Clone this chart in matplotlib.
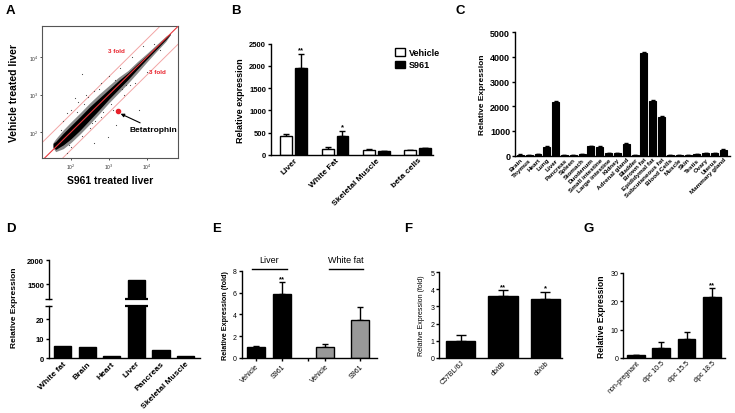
import numpy as np
import matplotlib
matplotlib.use("Agg")
import matplotlib.pyplot as plt
from matplotlib.patches import Patch
import matplotlib.transforms as mtransforms

plt.rcParams['font.family'] = ['Liberation Sans', 'DejaVu Sans']

# ---------------- data ----------------
# A: microarray scatter (log10 intensity), cloud envelope + sparse genes
cloud_x = [1.53, 1.60, 1.80, 2.00, 2.25, 2.50, 2.75, 3.00, 3.25, 3.50, 3.75, 4.00, 4.25, 4.50, 4.62]
core_lo = [1.60, 1.54, 1.66, 1.82, 2.06, 2.33, 2.60, 2.88, 3.14, 3.40, 3.68, 3.95, 4.21, 4.47, 4.61]
core_hi = [1.70, 1.75, 1.97, 2.17, 2.42, 2.68, 2.91, 3.14, 3.37, 3.58, 3.82, 4.05, 4.29, 4.53, 4.63]
halo_lo = [1.58, 1.48, 1.56, 1.72, 1.96, 2.22, 2.50, 2.78, 3.04, 3.30, 3.58, 3.87, 4.15, 4.42, 4.60]
halo_hi = [1.72, 1.82, 2.06, 2.27, 2.52, 2.78, 3.02, 3.24, 3.46, 3.64, 3.88, 4.10, 4.33, 4.56, 4.64]
sparse_x = [2.4, 2.6, 2.2, 2.0, 1.9, 2.8, 3.0, 3.3, 3.6, 3.9, 2.1, 1.8, 2.5, 2.8, 3.1, 3.4,
            3.7, 4.0, 2.3, 2.0, 3.2, 3.8, 2.6, 1.9, 2.28, 2.63, 2.97, 1.75, 2.35, 3.55,
            2.15, 2.45, 2.75, 3.05, 3.35, 1.95, 2.55, 2.85, 3.15, 3.45, 4.2, 4.35]
sparse_y = [3.0, 3.1, 2.8, 2.6, 2.5, 3.3, 3.5, 3.7, 4.0, 4.3, 2.9, 2.3, 2.1, 2.4, 2.6, 3.0,
            3.3, 3.6, 1.9, 1.6, 2.2, 2.6, 1.7, 1.45, 3.55, 2.30, 1.87, 2.05, 2.75, 3.25,
            2.55, 2.95, 3.15, 2.75, 3.15, 1.65, 2.25, 2.55, 3.40, 3.25, 4.35, 4.20]
beta_xy = (3.24, 2.56)
FOLD = 3

# B
b_cats = ["Liver", "White Fat", "Skeletal Muscle", "beta cells"]
b_vehicle = [420, 145, 115, 110]
b_vehicle_err = [55, 25, 20, 10]
b_s961 = [1950, 420, 80, 150]
b_s961_err = [320, 110, 8, 15]
b_stars = ["**", "*", "", ""]

# C
c_cats = ["Brain", "Thymus", "Heart", "Lung", "Liver", "Pancreas", "Spleen", "Stomach",
          "Duodenum", "Small intestine", "Large intestine", "Kidney", "Adrenal gland",
          "Bladder", "Brown fat", "Epididymal fat", "Subcutaneous fat", "Blood Cells",
          "Muscle", "Skin", "Testis", "Ovary", "Uterus", "Mammary gland"]
c_vals = [40, 20, 60, 340, 2180, 10, 10, 70, 370, 350, 100, 100, 480, 20, 4180, 2230,
          1560, 10, 15, 15, 60, 90, 90, 230]
c_err = [10, 5, 10, 30, 40, 3, 3, 10, 30, 30, 10, 10, 30, 5, 30, 40, 30, 3, 3, 3, 10, 10, 10, 20]

# D
d_cats = ["White fat", "Brain", "Heart", "Liver", "Pancreas", "Skeletal Muscle"]
d_vals = [6.2, 5.8, 1.0, 1580, 4.2, 1.4]

# E
e_cats = ["Vehicle", "S961", "", "Vehicle", "S961"]
e_vals = [1.0, 5.9, 1.0, 3.45]
e_err = [0.08, 1.05, 0.3, 1.2]
e_stars = ["", "**", "", ""]

# F
f_cats = ["C57BL/6J", "db/db", "ob/ob"]
f_vals = [1.0, 3.63, 3.41]
f_err = [0.33, 0.33, 0.45]
f_stars = ["", "**", "*"]

# G
g_cats = ["non-pregnant", "dpc 10.5", "dpc 15.5", "dpc 18.5"]
g_vals = [1.0, 3.7, 6.8, 21.4]
g_err = [0.2, 1.9, 2.3, 3.3]
g_stars = ["", "", "", "**"]

# ---------------- helpers ----------------
W, H = 735, 414


def add_ax(x0, y0, x1, y1):
    # pixel box (top-left origin) -> figure axes
    return fig.add_axes([x0 / W, 1 - y1 / H, (x1 - x0) / W, (y1 - y0) / H])


def prism(ax, size=5.5, weight="bold"):
    for s in ["top", "right"]:
        ax.spines[s].set_visible(False)
    for s in ["left", "bottom"]:
        ax.spines[s].set_linewidth(1.0)
    ax.tick_params(direction="out", length=2.5, width=1.0, labelsize=size, pad=1)
    for lab in ax.get_yticklabels():
        lab.set_fontweight(weight)


def xlabels(ax, pos, labels, size, weight="bold"):
    ax.set_xticks(pos)
    ax.set_xticklabels(labels, rotation=45, ha="right", rotation_mode="anchor",
                       fontsize=size, fontweight=weight)


def up_err(ax, x, v, e, cap=2.5):
    ax.errorbar(x, v, yerr=[np.zeros(len(e)), e], fmt="none", ecolor="black",
                elinewidth=1.0, capsize=cap, capthick=1.0, zorder=1)


def letter(x, y, s):
    fig.text(x / W, 1 - y / H, s, fontsize=9.5, fontweight="bold", va="center", ha="left")


fig = plt.figure(figsize=(7.35, 4.14), dpi=100)

# ---------------- A ----------------
ax = add_ax(42, 27, 178, 159)
ax.set_xlim(1.24, 4.82)
ax.set_ylim(1.31, 4.83)
ax.fill_between(cloud_x, halo_lo, halo_hi, color="#3a3a3a", alpha=0.6, lw=0, zorder=2)
ax.fill_between(cloud_x, core_lo, core_hi, color="black", lw=0, zorder=3)
ax.scatter(sparse_x, sparse_y, s=0.7, color="#444", lw=0, zorder=2)
lim = np.array([1.0, 5.0])
ax.plot(lim, lim, color="#e8383d", lw=0.8, zorder=4)
ax.plot(lim, lim + np.log10(FOLD), color="#f2a5a5", lw=0.7, zorder=1)
ax.plot(lim, lim - np.log10(FOLD), color="#f2a5a5", lw=0.7, zorder=1)
ax.scatter([beta_xy[0]], [beta_xy[1]], s=9, color="#e8202a", zorder=5)
ax.annotate("Betatrophin", xy=(beta_xy[0] + 0.07, beta_xy[1] - 0.07), xytext=(3.55, 2.08),
            fontsize=6, fontweight="bold", va="center", ha="left",
            arrowprops=dict(arrowstyle="-|>", color="black", lw=0.8, mutation_scale=5,
                            shrinkA=0, shrinkB=0))
ax.text(3.21, 4.13, "%d fold" % FOLD, color="#e8202a", fontsize=4.5, fontweight="bold", ha="center")
ax.text(4.29, 3.57, "%d fold" % FOLD, color="#e8202a", fontsize=4.5, fontweight="bold", ha="center")
ax.set_xticks([2, 3, 4])
ax.set_yticks([2, 3, 4])
ax.set_xticklabels(["10$^2$", "10$^3$", "10$^4$"])
ax.set_yticklabels(["10$^2$", "10$^3$", "10$^4$"])
ax.tick_params(direction="out", length=1.5, width=0.6, labelsize=3.5, pad=1, colors="#333")
for s in ax.spines.values():
    s.set_color("#555")
    s.set_linewidth(0.8)
ax.set_xlabel("S961 treated liver", fontsize=7.5, fontweight="bold", labelpad=3)
ax.set_ylabel("Vehicle treated liver", fontsize=7.5, fontweight="bold", labelpad=7)
letter(6, 11, "A")

# ---------------- B ----------------
ax = add_ax(271, 44.7, 433, 156)
xb = np.arange(len(b_cats))
bw = 0.29
ax.bar(xb - 0.18, b_vehicle, bw, color="white", edgecolor="black", lw=1.0, zorder=2)
ax.bar(xb + 0.18, b_s961, bw, color="black", edgecolor="black", lw=1.0, zorder=2)
up_err(ax, xb - 0.18, b_vehicle, b_vehicle_err, cap=2)
up_err(ax, xb + 0.18, b_s961, b_s961_err, cap=2)
for i, st in enumerate(b_stars):
    if st:
        ax.annotate(st, (xb[i] + 0.18, b_s961[i] + b_s961_err[i]), xytext=(0, 2),
                    textcoords="offset points", ha="center", fontsize=5.5, fontweight="bold")
ax.set_xlim(-0.55, 3.37)
ax.set_ylim(0, 2500)
ax.set_yticks([0, 500, 1000, 1500, 2000, 2500])
prism(ax, 5.5)
ax.tick_params(axis="x", length=0)
xlabels(ax, xb, b_cats, 6)
ax.set_ylabel("Relative expression", fontsize=6.5, fontweight="bold", labelpad=3)
ax.legend(handles=[Patch(facecolor="white", edgecolor="black", lw=1.0, label="Vehicle"),
                   Patch(facecolor="black", edgecolor="black", lw=1.0, label="S961")],
          loc="upper left", bbox_to_anchor=(0.74, 1.0), frameon=False, borderpad=0,
          handlelength=1.1, handleheight=0.9, handletextpad=0.4, labelspacing=0.35,
          prop=dict(size=6.5, weight="bold"))
letter(231, 11, "B")

# ---------------- C ----------------
ax = add_ax(515, 33.3, 730, 156.5)
xc = np.arange(len(c_cats))
ax.bar(xc, c_vals, 0.78, color="black", edgecolor="black", lw=0.8, zorder=2)
up_err(ax, xc, c_vals, c_err, cap=1.5)
ax.set_xlim(-0.6, 23.75)
ax.set_ylim(0, 5000)
ax.set_yticks(range(0, 5001, 1000))
prism(ax, 6.5)
ax.tick_params(axis="x", length=0)
xlabels(ax, xc, c_cats, 4.6)
ax.set_ylabel("Relative Expression", fontsize=6, fontweight="bold", labelpad=3)
letter(455, 11, "C")

# ---------------- D (broken axis) ----------------
axu = add_ax(49, 261, 200, 300)
axl = add_ax(49, 306.7, 200, 359.3)
xd = np.arange(len(d_cats))
for a in (axu, axl):
    a.bar(xd, d_vals, 0.7, color="black", edgecolor="black", lw=1.0, zorder=2)
    a.set_xlim(-0.55, 5.59)
axu.set_ylim(1200, 2000)
axu.set_yticks([1500, 2000])
axl.set_ylim(0, 27)
axl.set_yticks([0, 10, 20])
prism(axu, 5.5)
prism(axl, 5.5)
axu.spines["bottom"].set_visible(False)
axu.set_xticks([])
axl.tick_params(axis="x", length=0)
xlabels(axl, xd, d_cats, 6)
liver = d_cats.index("Liver")
for a, yy in ((axu, 0.0), (axl, 1.0)):
    tr = mtransforms.blended_transform_factory(a.transData, a.transAxes)
    a.plot([liver - 0.47, liver + 0.47], [yy, yy], color="black", lw=1.6,
           transform=tr, clip_on=False, zorder=5, solid_capstyle="butt")
    a.plot([-0.025, 0.02], [yy, yy], color="black", lw=1.0,
           transform=a.transAxes, clip_on=False, solid_capstyle="butt")
fig.text(15 / W, 1 - 308 / H, "Relative Expression", rotation=90, fontsize=6,
         fontweight="bold", ha="center", va="center")
letter(6, 229, "D")

# ---------------- E ----------------
ax = add_ax(241.7, 271.7, 376.7, 359)
xe_bars = [0, 1, 2.67, 4.0]
xe_ticks = [0, 1, 2, 2.67, 4.0]
ecol = ["black", "black", "#999999", "#999999"]
ax.bar(xe_bars, e_vals, 0.69, color=ecol, edgecolor="black", lw=1.0, zorder=2)
up_err(ax, xe_bars, e_vals, e_err, cap=2.5)
for i, st in enumerate(e_stars):
    if st:
        ax.annotate(st, (xe_bars[i], e_vals[i] + e_err[i]), xytext=(0, 1.5),
                    textcoords="offset points", ha="center", fontsize=5.5, fontweight="bold")
ax.set_xlim(-0.55, 4.64)
ax.set_ylim(0, 8)
ax.set_yticks([0, 2, 4, 6, 8])
prism(ax, 5, weight="normal")
xlabels(ax, xe_ticks, e_cats, 5, weight="normal")
ax.set_ylabel("Relative Expression (fold)", fontsize=5.2, fontweight="bold", labelpad=3)
for x0, x1, lab in ((-0.17, 1.18, "Liver"), (2.8, 4.13, "White fat")):
    ax.plot([x0, x1], [8.2, 8.2], color="black", lw=1.0, clip_on=False)
    ax.text((x0 + x1) / 2, 8.6, lab, ha="center", va="bottom", fontsize=6.5)
letter(212, 229, "E")

# ---------------- F ----------------
ax = add_ax(439.3, 273.3, 562, 358.7)
xf = np.arange(len(f_cats))
ax.bar(xf, f_vals, 0.69, color="black", edgecolor="black", lw=1.0, zorder=2)
up_err(ax, xf, f_vals, f_err, cap=3.5)
for i, st in enumerate(f_stars):
    if st:
        ax.annotate(st, (xf[i], f_vals[i] + f_err[i]), xytext=(0, 1.5),
                    textcoords="offset points", ha="center", fontsize=5.5, fontweight="bold")
ax.set_xlim(-0.5, 2.39)
ax.set_ylim(0, 5)
ax.set_yticks(range(6))
prism(ax, 5, weight="normal")
ax.tick_params(axis="x", length=0)
xlabels(ax, xf, f_cats, 5, weight="normal")
ax.set_ylabel("Relative Expression (fold)", fontsize=5, labelpad=4)
letter(404, 229, "F")

# ---------------- G ----------------
ax = add_ax(623.3, 274, 725, 359)
xg = np.arange(len(g_cats))
ax.bar(xg, g_vals, 0.7, color="black", edgecolor="black", lw=1.0, zorder=2)
up_err(ax, xg, g_vals, g_err, cap=2.5)
for i, st in enumerate(g_stars):
    if st:
        ax.annotate(st, (xg[i], g_vals[i] + g_err[i]), xytext=(0, 1.5),
                    textcoords="offset points", ha="center", fontsize=5.5, fontweight="bold")
ax.set_xlim(-0.5, 3.52)
ax.set_ylim(0, 30)
ax.set_yticks([0, 10, 20, 30])
prism(ax, 5, weight="normal")
ax.tick_params(axis="x", length=0)
xlabels(ax, xg, g_cats, 5, weight="normal")
ax.set_ylabel("Relative Expression", fontsize=6.2, fontweight="bold", labelpad=3)
letter(584, 229, "G")

fig.savefig("out.png", dpi=100)
